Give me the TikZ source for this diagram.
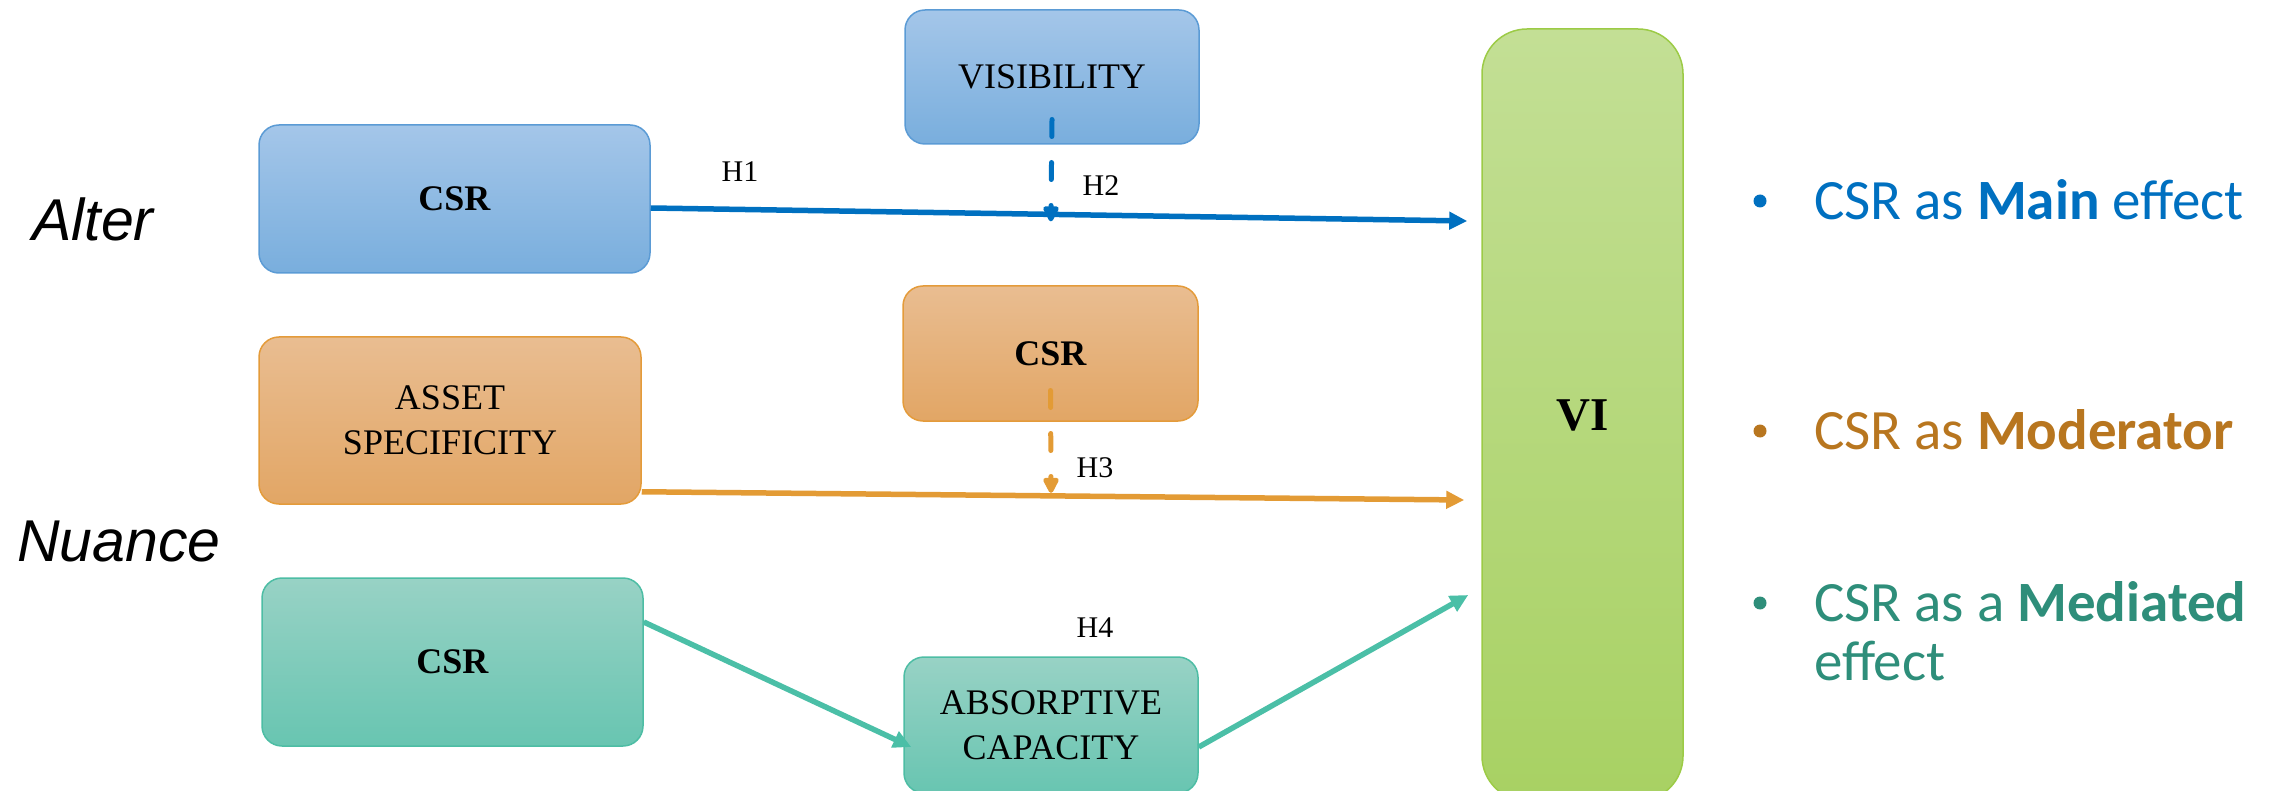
\documentclass[tikz,border=0pt]{standalone}
\usepackage{fontspec}
\setmainfont{Liberation Serif}
\newfontfamily\labelsans{Liberation Sans}
\newfontfamily\listfont{Carlito}
\usetikzlibrary{arrows.meta,calc}

\definecolor{blueTop}{HTML}{A4C6E9}
\definecolor{blueBot}{HTML}{79AEDD}
\definecolor{blueEdge}{HTML}{5B9BD5}
\definecolor{orangeTop}{HTML}{E9BD91}
\definecolor{orangeBot}{HTML}{E2A665}
\definecolor{orangeEdge}{HTML}{E49B3A}
\definecolor{tealTop}{HTML}{98D2C5}
\definecolor{tealBot}{HTML}{68C5B1}
\definecolor{tealEdge}{HTML}{4DBDA4}
\definecolor{viTop}{HTML}{C3DF95}
\definecolor{viBot}{HTML}{A8D163}
\definecolor{viEdge}{HTML}{9CCB46}
\definecolor{lineBlue}{HTML}{0070C0}
\definecolor{lineOrange}{HTML}{E39B35}
\definecolor{lineTeal}{HTML}{4BBFA7}
\definecolor{txtOrange}{HTML}{B8761F}
\definecolor{txtTeal}{HTML}{2E8E7A}

\tikzset{
  box/.style={draw, line width=1.5pt, rounded corners=20pt, inner sep=0pt,
    align=center, font=\fontsize{36}{45}\selectfont},
  bluebox/.style={box, draw=blueEdge, top color=blueTop, bottom color=blueBot},
  orangebox/.style={box, draw=orangeEdge, top color=orangeTop, bottom color=orangeBot},
  tealbox/.style={box, draw=tealEdge, top color=tealTop, bottom color=tealBot},
  link/.style={line width=5.5pt, -{Triangle[length=18pt,width=17pt]}},
  modlink/.style={line width=5pt, line cap=round, dash pattern=on 17pt off 26pt,
    -{Triangle[length=18pt,width=17pt,round]}},
  hlabel/.style={font=\fontsize{30}{30}\selectfont, inner sep=0pt},
  rowlabel/.style={font=\labelsans\itshape\fontsize{59}{59}\selectfont, inner sep=0pt, anchor=base west},
  listtext/.style={font=\listfont\fontsize{57}{59}\selectfont, inner sep=0pt, anchor=base west},
  dot/.style={circle, inner sep=0pt, minimum size=13pt}
}

\begin{document}
\begin{tikzpicture}[x=1pt,y=-1pt]
\useasboundingbox (0,0) rectangle (2285,791);

% row labels
\node[rowlabel] (alter) at (32,241) {Alter};
\node[rowlabel] (nuance) at (17,561) {Nuance};

% boxes
\node[bluebox, minimum width=391pt, minimum height=148pt] (csrA) at (454.5,199) {\textbf{CSR}};
\node[bluebox, minimum width=294pt, minimum height=134pt] (vis) at (1052,77) {VISIBILITY};
\node[orangebox, minimum width=295pt, minimum height=135pt] (csrB) at (1050.5,353.5) {\textbf{CSR}};
\node[orangebox, minimum width=382pt, minimum height=167pt] (asset) at (450,420.5) {ASSET\\SPECIFICITY};
\node[tealbox, minimum width=381pt, minimum height=168pt] (csrC) at (452.5,662) {\textbf{CSR}};
\node[tealbox, minimum width=294pt, minimum height=136pt] (absorb) at (1051,725) {ABSORPTIVE\\CAPACITY};
\node[box, rounded corners=45pt, draw=viEdge, top color=viTop, bottom color=viBot,
  minimum width=201pt, minimum height=772pt, font=\fontsize{47}{47}\selectfont\bfseries] (vi) at (1582.5,415) {VI};

% arrow ends near VI
\coordinate (viA) at ($(vi.west)+(-14,-194)$);
\coordinate (viB) at ($(vi.west)+(-17,85)$);
\coordinate (viC) at ($(vi.west)+(-13,180)$);

% main effect
\draw[link, lineBlue] ([yshift=-9pt]csrA.east) -- (viA);
% moderated effect
\draw[link, lineOrange] ($(asset.south east)+(0,-13)$) -- (viB);
% mediated effect
\draw[link, lineTeal] ($(csrC.east)+(0,-40)$) -- ($(absorb.west)+(8,22)$);
\draw[link, lineTeal] ($(absorb.east)+(0,22)$) -- (viC);

% moderators
\coordinate (visStart) at ($(vis.center)+(0,42.5)$);
\coordinate (visEnd) at ($([yshift=-9pt]csrA.east)!0.49!(viA)+(0,7)$);
\draw[modlink, lineBlue] (visStart) -- (visEnd);
\coordinate (modStart) at ($(csrB.center)+(0,37)$);
\coordinate (modEnd) at ($($(asset.south east)+(0,-13)$)!0.4976!(viB)+(0,-3)$);
\draw[modlink, lineOrange] (modStart) -- (modEnd);

% hypothesis labels
\node[hlabel] (h1) at (740,172) {H1};
\node[hlabel] (h2) at (1101,186) {H2};
\node[hlabel] (h3) at (1095,468) {H3};
\node[hlabel] (h4) at (1095,628) {H4};

% legend
\node[dot, fill=lineBlue] (b1) at (1760,201) {};
\node[listtext, text=lineBlue] (l1) at (1814,220) {CSR as \textbf{Main} effect};
\node[dot, fill=txtOrange] (b2) at (1760,431) {};
\node[listtext, text=txtOrange] (l2) at (1814,449) {CSR as \textbf{Moderator}};
\node[dot, fill=txtTeal] (b3) at (1760,603) {};
\node[listtext, text=txtTeal] (l3) at (1814,621) {CSR as a \textbf{Mediated}};
\node[listtext, text=txtTeal] (l4) at (1814,680) {effect};
\end{tikzpicture}
\end{document}
